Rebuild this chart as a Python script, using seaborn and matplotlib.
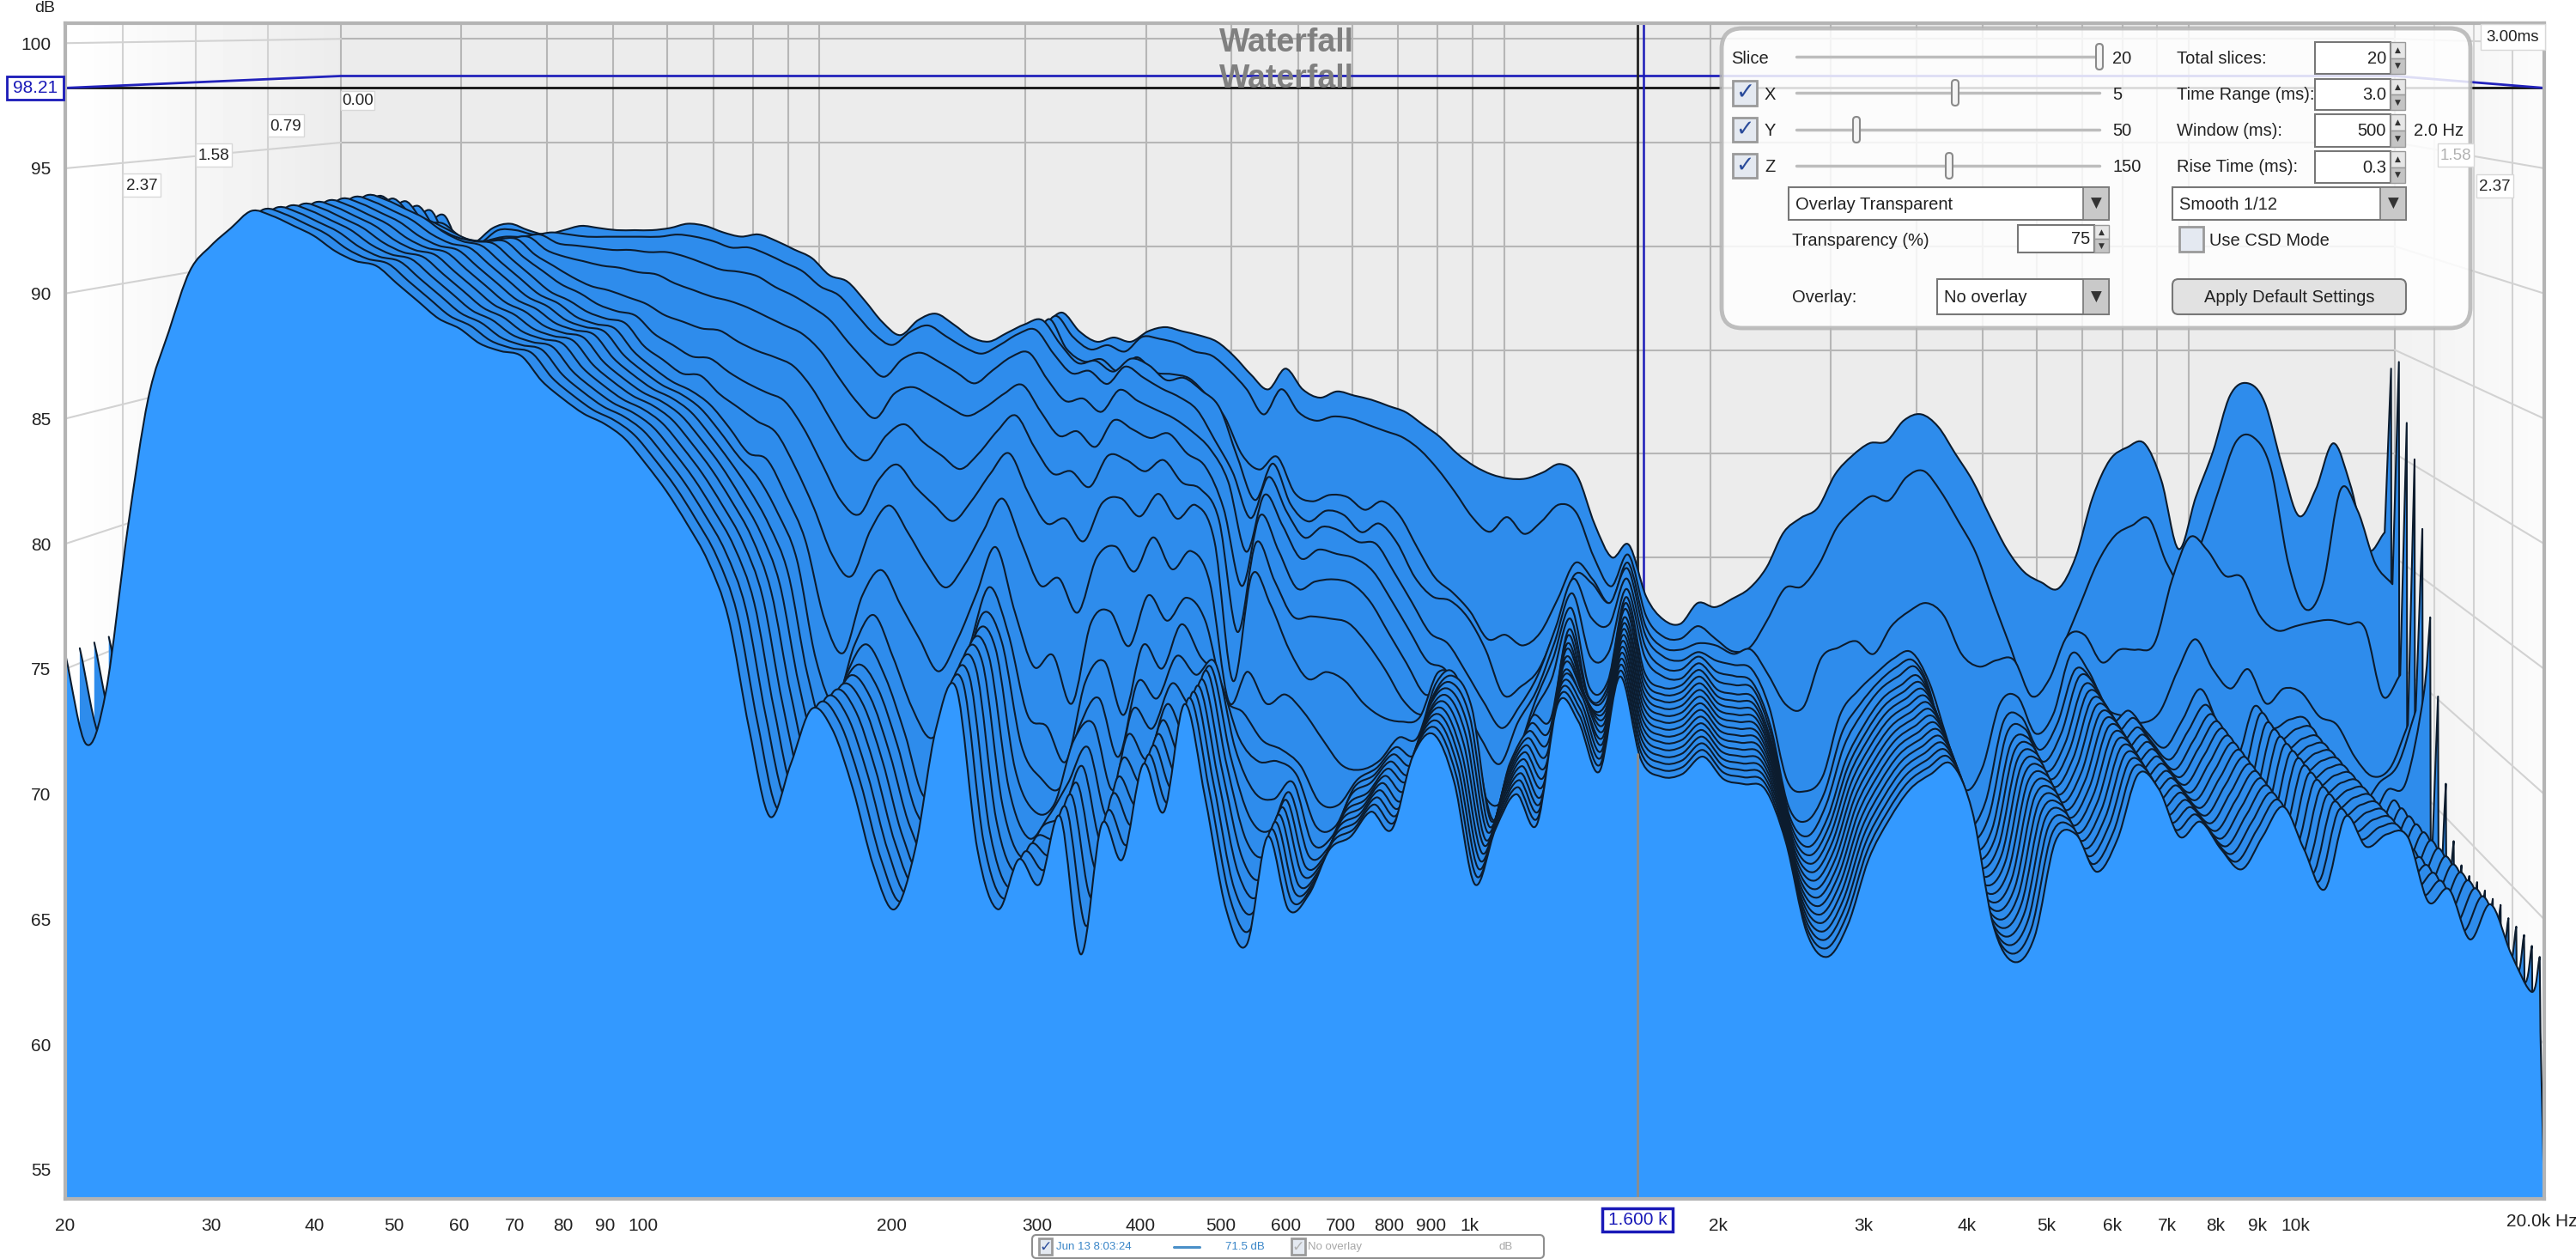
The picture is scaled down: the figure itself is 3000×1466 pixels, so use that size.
import numpy as np
import matplotlib
matplotlib.use("Agg")
import matplotlib.pyplot as plt
from matplotlib.patches import FancyBboxPatch, Rectangle
from matplotlib.path import Path
from matplotlib.patheffects import AbstractPathEffect
from matplotlib.transforms import IdentityTransform
import seaborn as sns

# analysis grid, 1/12 octave, plus the spike and the roll off at the top end
freq_hz = [20, 21.2, 22.4, 23.8, 25.2, 26.7, 28.3, 30, 31.7, 33.6, 35.6, 37.8,
           40, 42.4, 44.9, 47.6, 50.4, 53.4, 56.6, 60, 63.5, 67.3, 71.3, 75.5,
           80, 84.8, 89.8, 95.1, 100.8, 106.8, 113.1, 119.9, 127, 134.5, 142.5, 151,
           160, 169.5, 179.6, 190.3, 201.6, 213.6, 226.3, 239.7, 254, 269.1, 285.1, 302,
           320, 339, 359.2, 380.6, 403.2, 427.2, 452.5, 479.5, 508, 538.2, 570.2, 604.1,
           640, 678.1, 718.4, 761.1, 806.3, 854.3, 905.1, 958.9, 1016, 1076, 1140, 1208,
           1280, 1356, 1437, 1522, 1613, 1709, 1810, 1918, 2032, 2153, 2281, 2416,
           2560, 2712, 2874, 3044, 3225, 3417, 3620, 3836, 4064, 4305, 4561, 4833,
           5120, 5424, 5747, 6089, 6451, 6834, 7241, 7671, 8127, 8611, 9123, 9665,
           10240, 10850, 11490, 12180, 12900, 13670, 14480, 15340, 16260, 17220, 18250, 19330,
           19750, 19790, 20000]

# 20 to 107 Hz
head_settled = [75.6, 72.0, 74.1, 80.6, 85.8, 88.5, 90.9, 91.9, 92.6, 93.3,
                93.1, 92.7, 92.3, 91.7, 91.3, 91.1, 90.4, 89.7, 89.0, 88.6,
                88.0, 87.7, 87.5, 86.5, 85.8, 85.2, 84.8, 84.2, 83.2, 82.1]
head_0 = [71.5, 70.5, 72.5, 77.5, 82.5, 85.5, 87.5, 89.0, 89.6, 90.2,
          90.5, 90.2, 90.0, 90.1, 90.4, 90.4, 90.2, 90.2, 90.3, 90.3,
          90.4, 90.5, 90.3, 89.9, 89.9, 89.9, 89.4, 89.0, 88.4, 87.9]
head_1 = [71.0, 70.0, 72.0, 77.0, 82.0, 85.0, 87.0, 88.5, 89.2, 89.8,
          90.1, 89.8, 89.6, 89.7, 90.0, 90.0, 89.8, 89.8, 89.9, 89.9,
          90.0, 90.1, 89.9, 89.5, 89.5, 89.5, 89.0, 88.6, 88.0, 87.5]
head_2 = [70.2, 69.2, 71.2, 76.2, 81.2, 84.2, 86.2, 87.7, 88.4, 89.0,
          89.3, 89.0, 88.8, 88.9, 89.2, 89.2, 89.0, 89.0, 89.1, 89.1,
          89.2, 89.3, 89.1, 88.7, 88.7, 88.7, 88.2, 87.8, 87.2, 86.7]
head_3 = [73.0, 71.0, 73.0, 78.0, 83.0, 86.0, 88.0, 89.5, 90.0, 90.3,
          90.5, 91.2, 91.4, 91.1, 90.9, 91.1, 91.3, 91.2, 91.1, 91.1,
          91.1, 91.2, 91.4, 91.3, 91.0, 90.8, 90.9, 90.6, 90.2, 89.8]
head_4 = [73.8, 71.5, 73.8, 79.6, 84.4, 87.3, 89.6, 90.7, 91.3, 91.9,
          90.3, 90.6, 91.2, 91.2, 91.0, 91.1, 91.0, 90.9, 90.9, 90.9,
          90.9, 90.9, 91.0, 90.9, 90.7, 90.4, 90.4, 90.1, 89.7, 89.3]
head_5 = [74.2, 71.6, 73.9, 79.8, 84.7, 87.6, 89.9, 91.0, 91.6, 92.2,
          90.6, 90.5, 90.8, 91.0, 91.0, 91.1, 90.7, 90.6, 90.5, 90.4,
          90.4, 90.3, 90.3, 90.1, 89.8, 89.5, 89.4, 89.2, 88.7, 88.3]
head_6 = [74.6, 71.7, 74.0, 80.0, 85.0, 87.8, 90.2, 91.2, 91.9, 92.5,
          91.4, 91.0, 90.5, 90.7, 91.0, 91.1, 90.5, 90.2, 90.0, 89.8,
          89.7, 89.5, 89.4, 89.0, 88.7, 88.4, 88.2, 87.9, 87.5, 87.1]
head_7 = [75.0, 71.8, 74.0, 80.2, 85.3, 88.0, 90.4, 91.4, 92.1, 92.8,
          91.9, 91.8, 91.2, 91.0, 91.1, 91.1, 90.4, 89.9, 89.4, 89.0,
          88.8, 88.5, 88.2, 87.7, 87.4, 87.1, 87.0, 86.5, 86.1, 85.8]
head_8 = [75.2, 71.9, 74.0, 80.4, 85.5, 88.2, 90.6, 91.6, 92.3, 93.0,
          92.3, 92.0, 91.6, 91.2, 91.1, 91.1, 90.4, 89.8, 89.2, 88.8,
          88.3, 88.0, 87.8, 87.0, 86.5, 86.0, 85.9, 85.3, 84.8, 84.4]
head_9 = [75.4, 72.0, 74.1, 80.5, 85.7, 88.4, 90.8, 91.8, 92.5, 93.2,
          92.6, 92.2, 91.8, 91.4, 91.2, 91.1, 90.4, 89.7, 89.0, 88.6,
          88.1, 87.8, 87.6, 86.6, 86.0, 85.4, 85.3, 84.5, 83.9, 83.3]

# 113 to 640 Hz
mid_0 = [87.4, 86.7, 85.5, 85.3, 86.1, 86.0, 85.5, 85.0, 84.8, 85.1,
         85.6, 86.2, 86.8, 85.9, 85.4, 85.6, 85.4, 85.9, 86.1, 85.9,
         85.7, 85.4, 84.7, 83.8, 83.1, 84.1, 83.1, 82.7, 83.0, 82.8, 82.6]
mid_1 = [87.0, 86.3, 85.1, 84.9, 85.7, 85.6, 85.1, 84.6, 84.4, 84.7,
         85.2, 85.8, 86.8, 85.8, 85.2, 85.4, 85.1, 85.8, 85.7, 85.5,
         85.1, 84.9, 84.2, 83.3, 82.1, 83.3, 82.2, 81.8, 82.0, 81.9, 81.6]
mid_2 = [86.2, 85.5, 84.3, 84.1, 84.9, 84.8, 84.3, 83.8, 83.6, 83.9,
         84.4, 85.4, 86.8, 85.4, 84.8, 84.9, 84.3, 85.0, 84.3, 84.2,
         84.0, 83.2, 82.2, 80.4, 79.7, 80.3, 78.6, 78.2, 78.5, 78.4, 77.8]
mid_3 = [89.0, 88.7, 87.8, 86.8, 86.2, 86.9, 87.2, 86.7, 86.1, 85.9,
         86.3, 86.7, 86.9, 85.8, 84.9, 85.0, 84.5, 85.1, 84.8, 84.1,
         84.2, 83.6, 82.8, 80.5, 78.5, 80.2, 78.3, 77.5, 78.0, 77.8, 77.0]
mid_4 = [88.6, 88.2, 87.3, 86.4, 85.9, 86.5, 86.8, 86.3, 85.8, 85.5,
         85.9, 86.4, 86.6, 85.5, 84.6, 84.7, 84.1, 84.9, 84.4, 83.9,
         83.5, 82.9, 81.5, 80.0, 77.9, 79.8, 78.2, 77.0, 77.5, 77.3, 76.8]
mid_5 = [87.8, 87.2, 86.2, 85.3, 84.6, 85.4, 85.7, 85.3, 84.8, 84.3,
         84.9, 85.5, 85.7, 84.5, 83.5, 83.6, 83.0, 84.0, 83.5, 83.1,
         82.7, 82.1, 81.3, 79.8, 76.6, 79.2, 77.8, 76.3, 76.7, 76.5, 76.3]
mid_6 = [86.7, 85.9, 84.7, 83.6, 82.9, 84.0, 84.3, 83.9, 83.4, 83.0,
         83.4, 84.0, 84.4, 83.2, 82.1, 82.3, 81.6, 82.8, 82.4, 82.0,
         82.2, 81.3, 80.7, 78.8, 75.3, 78.5, 76.9, 75.2, 75.5, 75.6, 75.4]
mid_7 = [85.4, 84.4, 83.0, 81.7, 81.2, 82.3, 82.8, 82.0, 81.4, 80.8,
         81.5, 82.5, 83.2, 81.8, 80.6, 80.7, 80.0, 81.4, 81.2, 80.7,
         81.2, 80.2, 79.9, 78.5, 73.5, 77.5, 75.8, 74.2, 74.2, 74.1, 73.9]
mid_8 = [84.0, 82.8, 81.2, 79.6, 79.0, 80.5, 81.2, 80.2, 79.4, 78.7,
         79.6, 80.8, 81.7, 80.0, 78.6, 78.8, 77.8, 79.5, 79.7, 78.9,
         79.9, 78.8, 79.4, 77.8, 71.6, 76.3, 75.0, 73.0, 71.7, 72.0, 71.6]
mid_9 = [82.8, 81.3, 79.5, 77.4, 76.5, 78.5, 79.6, 78.4, 77.0, 76.0,
         77.0, 78.5, 79.9, 78.0, 76.1, 76.4, 74.9, 77.3, 77.8, 76.7,
         78.2, 76.8, 77.6, 76.2, 71.0, 72.3, 70.9, 71.3, 70.5, 69.3, 68.2]
mid_10 = [81.8, 80.2, 78.3, 74.9, 73.4, 75.9, 77.0, 75.5, 74.0, 72.6,
          74.0, 76.0, 78.0, 75.2, 72.8, 73.3, 71.2, 74.7, 75.2, 73.7,
          75.9, 74.8, 75.8, 74.8, 71.5, 70.8, 69.6, 69.2, 68.5, 66.9, 66.8]
mid_11 = [81.2, 79.7, 77.7, 73.4, 71.5, 74.0, 75.3, 73.5, 71.3, 70.0,
          71.5, 74.0, 76.5, 74.5, 71.0, 70.5, 69.0, 72.4, 73.3, 71.0,
          74.0, 73.0, 74.9, 73.5, 72.5, 70.0, 69.0, 69.0, 68.4, 66.2, 66.2]
mid_12 = [80.9, 79.4, 77.3, 73.0, 70.5, 73.0, 74.3, 72.9, 70.5, 67.8,
          69.0, 72.5, 75.6, 74.4, 70.0, 68.6, 68.2, 70.8, 72.0, 69.5,
          72.7, 72.0, 73.8, 73.0, 73.5, 69.9, 68.0, 67.7, 68.4, 65.8, 66.1]
mid_13 = [80.8, 79.3, 77.1, 72.8, 70.0, 72.4, 73.7, 72.7, 70.3, 67.4,
          67.0, 71.0, 75.0, 74.4, 69.3, 67.5, 67.8, 70.5, 71.2, 68.4,
          71.8, 71.0, 72.9, 72.0, 73.6, 69.8, 67.2, 66.7, 68.3, 65.6, 66.0]
mid_14 = [80.8, 79.3, 77.0, 72.7, 69.6, 71.9, 73.5, 72.6, 70.2, 67.2,
          66.0, 70.0, 74.7, 74.3, 68.8, 66.7, 67.6, 69.0, 70.5, 67.6,
          71.0, 70.0, 72.3, 71.0, 73.7, 69.8, 66.6, 66.0, 68.3, 65.5, 66.0]
mid_15 = [80.8, 79.3, 77.0, 72.6, 69.4, 71.6, 73.4, 72.6, 70.2, 67.1,
          65.6, 69.3, 74.4, 74.3, 68.4, 66.2, 67.5, 68.0, 70.0, 66.8,
          70.3, 69.3, 71.9, 70.4, 73.6, 69.8, 66.2, 65.4, 68.3, 65.5, 66.0]
mid_16 = [80.8, 79.3, 77.0, 72.6, 69.2, 71.4, 73.4, 72.6, 70.2, 67.1,
          65.5, 68.8, 74.0, 74.3, 68.1, 65.9, 67.4, 67.4, 69.6, 66.0,
          69.8, 68.7, 71.6, 70.0, 73.6, 69.8, 65.9, 65.0, 68.3, 65.4, 66.0]
mid_17 = [80.8, 79.3, 77.0, 72.6, 69.2, 71.3, 73.4, 72.6, 70.2, 67.1,
          65.4, 68.4, 73.6, 74.2, 67.9, 65.6, 67.4, 67.0, 69.4, 65.2,
          69.4, 68.2, 71.4, 69.7, 73.6, 69.8, 65.6, 64.7, 68.3, 65.4, 66.0]
mid_18 = [80.8, 79.3, 77.0, 72.6, 69.1, 71.2, 73.4, 72.6, 70.2, 67.1,
          65.4, 68.0, 73.1, 74.2, 67.8, 65.5, 67.4, 66.7, 69.2, 64.4,
          69.0, 67.7, 71.3, 69.4, 73.6, 69.8, 65.5, 64.3, 68.3, 65.4, 66.0]
mid_19 = [80.8, 79.3, 77.0, 72.6, 69.1, 71.2, 73.4, 72.6, 70.2, 67.1,
          65.4, 67.8, 72.6, 74.2, 67.8, 65.4, 67.4, 66.4, 69.1, 63.6,
          68.8, 67.4, 71.2, 69.3, 73.6, 69.8, 65.4, 64.0, 68.3, 65.4, 66.0]

# 678 Hz to 19.3 kHz, first slices
upper_0 = [82.3, 82.0, 81.4, 80.8, 80.0, 79.4, 79.0, 78.8, 78.8,
           79.1, 79.5, 78.9, 76.6, 75.0, 75.6, 73.1, 72.0, 71.8, 72.8,
           72.6, 73.0, 73.5, 74.5, 76.2, 76.9, 77.4, 79.0, 79.9, 80.5,
           80.6, 81.6, 81.9, 81.3, 80.0, 78.7, 77.0, 75.4, 74.3, 73.8,
           73.5, 75.0, 77.9, 79.7, 80.3, 80.5, 78.7, 75.4, 77.9, 80.1,
           82.8, 83.4, 82.5, 79.5, 77.0, 78.3, 80.5, 78.5, 75.4, 76.2]
upper_1 = [81.3, 81.0, 80.4, 79.5, 78.4, 77.2, 76.5, 77.2, 76.4,
           77.0, 77.8, 77.4, 75.3, 73.9, 75.4, 72.5, 71.5, 71.4, 72.0,
           71.4, 70.8, 71.0, 72.3, 73.8, 73.9, 75.0, 76.7, 77.6, 78.2,
           78.0, 79.1, 79.4, 78.4, 77.0, 75.5, 73.2, 71.0, 68.8, 69.0,
           71.0, 73.0, 75.0, 76.3, 76.8, 77.1, 75.0, 74.0, 76.0, 78.5,
           80.8, 81.0, 79.5, 75.0, 72.8, 74.0, 78.5, 77.5, 75.0, 74.0]
upper_2 = [78.2, 77.5, 76.0, 74.6, 73.9, 73.0, 71.7, 71.9, 71.4,
           72.0, 73.6, 75.3, 74.5, 73.4, 75.3, 72.3, 71.3, 71.2, 71.5,
           71.4, 71.0, 71.2, 70.0, 68.6, 68.5, 70.8, 71.3, 71.6, 71.0,
           72.3, 73.0, 73.4, 72.8, 71.0, 70.4, 70.7, 70.7, 69.0, 69.8,
           71.8, 71.9, 70.6, 71.2, 71.2, 71.5, 74.5, 76.5, 75.9, 74.7,
           74.6, 72.8, 72.1, 72.3, 72.5, 72.6, 72.4, 72.2, 69.0, 70.0]
upper_3 = [77.4, 76.5, 74.9, 74.0, 73.8, 73.0, 71.5, 69.4, 69.8,
           70.6, 72.6, 75.0, 74.6, 73.7, 75.3, 72.2, 71.2, 71.0, 71.4,
           71.0, 70.8, 70.6, 68.8, 65.4, 64.9, 65.6, 68.5, 69.6, 70.4,
           71.1, 71.4, 70.0, 67.4, 65.0, 66.0, 69.0, 69.3, 67.6, 68.5,
           71.3, 70.5, 68.8, 68.4, 68.1, 68.6, 70.5, 72.0, 70.6, 69.7,
           70.6, 69.0, 69.7, 69.5, 68.4, 68.0, 66.5, 65.6, 66.0, 68.0]
upper_4 = [76.7, 75.4, 74.0, 72.6, 72.1, 70.8, 69.4, 68.2, 69.2,
           70.6, 72.8, 75.1, 73.3, 73.0, 75.1, 72.0, 71.0, 70.9, 71.5,
           70.8, 70.6, 70.3, 68.3, 64.6, 63.9, 65.2, 68.0, 69.3, 70.3,
           71.0, 71.3, 69.6, 65.2, 63.6, 64.8, 68.5, 68.7, 67.2, 68.4,
           70.9, 70.3, 68.5, 69.0, 68.0, 67.3, 68.6, 70.0, 68.3, 66.8,
           69.2, 68.2, 68.6, 68.5, 66.2, 66.4, 64.8, 65.7, 66.5, 69.0]
upper_5 = [75.7, 74.4, 73.0, 71.6, 71.2, 69.6, 68.0, 66.9, 68.8,
           70.2, 72.4, 74.7, 71.8, 72.0, 74.9, 71.8, 70.9, 70.8, 71.5,
           70.7, 70.5, 70.3, 68.2, 64.5, 63.6, 65.0, 67.7, 69.2, 70.3,
           70.9, 71.3, 69.4, 65.0, 63.4, 64.5, 68.3, 68.5, 67.0, 68.3,
           70.9, 70.3, 68.4, 69.0, 67.9, 67.1, 68.4, 69.6, 68.0, 66.4,
           69.2, 68.0, 68.5, 68.4, 65.9, 66.3, 64.4, 65.7, 66.0, 70.0]

# 678 Hz to 1.5 kHz, later slices
bend_6 = [74.6, 73.2, 71.8, 70.4, 70.6, 68.6, 66.2, 65.4, 67.5, 70.0, 72.0, 74.3, 70.7, 71.0, 74.8]
bend_7 = [73.0, 71.8, 70.4, 69.8, 70.6, 69.0, 65.4, 65.0, 67.0, 69.8, 71.4, 74.1, 70.6, 71.0, 74.8]
bend_8 = [70.6, 70.0, 69.8, 70.0, 72.0, 71.3, 67.5, 65.4, 67.2, 70.0, 69.9, 73.9, 70.9, 71.0, 74.8]
bend_9 = [68.0, 68.4, 69.4, 69.4, 71.8, 72.2, 69.5, 65.8, 67.8, 70.0, 69.7, 73.9, 71.0, 70.9, 74.7]
bend_10 = [67.9, 68.4, 69.3, 69.0, 71.6, 72.4, 71.0, 66.1, 68.6, 70.0, 69.5, 73.8, 71.4, 70.9, 74.7]
bend_11 = [67.9, 68.4, 69.3, 68.9, 71.6, 72.4, 70.9, 66.2, 68.6, 70.0, 69.3, 73.8, 71.8, 70.9, 74.7]
bend_12 = [67.9, 68.4, 69.3, 68.8, 71.6, 72.4, 70.8, 66.3, 68.6, 70.0, 69.1, 73.7, 72.1, 70.9, 74.7]
bend_13 = [67.8, 68.3, 69.3, 68.8, 71.5, 72.4, 70.7, 66.3, 68.6, 70.0, 69.0, 73.7, 72.4, 70.9, 74.7]
bend_14 = [67.8, 68.3, 69.3, 68.7, 71.5, 72.4, 70.6, 66.4, 68.6, 70.0, 68.9, 73.6, 72.5, 70.9, 74.7]
bend_settled = [67.8, 68.3, 69.3, 68.6, 71.5, 72.4, 70.5, 66.4, 68.6, 70.0, 68.8, 73.6, 72.9, 70.9, 74.7]

# 1.6 kHz to 19.3 kHz, later slices
top_settled = [71.4, 70.7, 70.8, 71.5,
               70.6, 70.4, 70.2, 68.1, 64.5, 63.5, 64.8, 67.4, 69.0, 70.2,
               70.8, 71.2, 69.3, 64.8, 63.3, 64.3, 68.1, 68.4, 66.9, 68.2,
               70.8, 70.2, 68.3, 68.9, 67.8, 67.0, 68.3, 69.5, 67.8, 66.2,
               69.1, 67.9, 68.4, 68.3, 65.7, 66.2, 64.2, 65.6, 63.6, 62.1]

# spike height at the top end of every slice, first to last
spike_db = [84.1, 84.6, 81.9, 80.4, 77.4, 73.6, 70.3, 66.7, 64.5, 63.8,
            63.7, 63.8, 63.8, 63.8, 63.9, 63.7, 63.7, 63.7, 63.6, 63.5]
after_spike_db = 60.5
end_db = 53.8

slices = [head_0 + mid_0 + upper_0, head_1 + mid_1 + upper_1, head_2 + mid_2 + upper_2,
          head_3 + mid_3 + upper_3, head_4 + mid_4 + upper_4, head_5 + mid_5 + upper_5,
          head_6 + mid_6 + bend_6 + top_settled, head_7 + mid_7 + bend_7 + top_settled,
          head_8 + mid_8 + bend_8 + top_settled, head_9 + mid_9 + bend_9 + top_settled,
          head_settled + mid_10 + bend_10 + top_settled, head_settled + mid_11 + bend_11 + top_settled,
          head_settled + mid_12 + bend_12 + top_settled, head_settled + mid_13 + bend_13 + top_settled,
          head_settled + mid_14 + bend_14 + top_settled, head_settled + mid_15 + bend_settled + top_settled,
          head_settled + mid_16 + bend_settled + top_settled, head_settled + mid_17 + bend_settled + top_settled,
          head_settled + mid_18 + bend_settled + top_settled, head_settled + mid_19 + bend_settled + top_settled]

x_ticks = [20, 30, 40, 50, 60, 70, 80, 90, 100, 200, 300, 400, 500, 600, 700, 800, 900,
           1000, 2000, 3000, 4000, 5000, 6000, 7000, 8000, 9000, 10000]
x_tick_labels = ["20", "30", "40", "50", "60", "70", "80", "90", "100", "200", "300", "400",
                 "500", "600", "700", "800", "900", "1k", "2k", "3k", "4k", "5k", "6k",
                 "7k", "8k", "9k", "10k"]
y_ticks = [55, 60, 65, 70, 75, 80, 85, 90, 95, 100]
back_freqs = x_ticks[1:]
wall_times = [0.79, 1.58, 2.37]
time_range = 3.0
cursor_db = 98.21
cursor_hz = 1600

# perspective of the 3d view, pixels of the 3000x1466 picture
FRONT_X0, FRONT_DX = 76, 962.3
BACK_X0, BACK_DX = 397, 797.3
FRONT_Y55, FRONT_DY = 1362, 29.15
BACK_Y55, BACK_DY = 1132, 24.15
PLOT_TOP, PLOT_BOTTOM = 27, 1396
DB_TOP = 55 + (FRONT_Y55 - PLOT_TOP) / FRONT_DY
DB_BOTTOM = 55 + (FRONT_Y55 - PLOT_BOTTOM) / FRONT_DY


def project(freq, db, depth):
    # depth 0 is the back wall, 1 the front. Returns what the front axes read
    lf = np.log10(np.asarray(freq, dtype=float) / 20)
    d = np.asarray(db, dtype=float) - 55
    x = (BACK_X0 + BACK_DX * lf) * (1 - depth) + (FRONT_X0 + FRONT_DX * lf) * depth
    y = (BACK_Y55 - BACK_DY * d) * (1 - depth) + (FRONT_Y55 - FRONT_DY * d) * depth
    return 20 * 10 ** ((x - FRONT_X0) / FRONT_DX), 55 + (FRONT_Y55 - y) / FRONT_DY


class SmoothCurve(AbstractPathEffect):
    # renders the polyline with round bezier joins, the vertices stay where they are
    def draw_path(self, renderer, gc, tpath, affine, rgbFace=None):
        pts = affine.transform(tpath.vertices)
        n = len(pts)
        d = np.diff(pts, axis=0)
        good = (d[:, 0] > 0) & ~((np.abs(d[:, 1]) > 15 * d[:, 0]) & (np.abs(d[:, 1]) > 15))
        tang = np.zeros_like(pts)
        for i in range(n):
            before = i > 0 and good[i - 1]
            after = i < n - 1 and good[i]
            if before and after:
                tang[i] = (pts[i + 1] - pts[i - 1]) / 6
            elif after:
                tang[i] = d[i] / 3
            elif before:
                tang[i] = d[i - 1] / 3
        verts = [pts[0]]
        codes = [Path.MOVETO]
        for i in range(n - 1):
            if good[i]:
                verts += [pts[i] + tang[i], pts[i + 1] - tang[i + 1], pts[i + 1]]
                codes += [Path.CURVE4] * 3
            else:
                verts.append(pts[i + 1])
                codes.append(Path.LINETO)
        renderer.draw_path(gc, Path(np.array(verts), codes), IdentityTransform(), rgbFace)


sns.set_theme(style="white")
plt.rcParams["font.family"] = ["Liberation Sans", "DejaVu Sans"]

fig = plt.figure(figsize=(30, 14.66), dpi=100, facecolor="white")
rect = [FRONT_X0 / 3000, (1466 - PLOT_BOTTOM) / 1466, 2887 / 3000, (PLOT_BOTTOM - PLOT_TOP) / 1466]

# walls
bg = fig.add_axes(rect, zorder=0)
cols = np.arange(2887) + 76
shade = np.interp(cols, [76, 397, 398, 2789, 2790, 2963], [1.0, 0.925, 0.925, 0.925, 0.945, 0.985])
bg.imshow(shade[None, :], aspect="auto", cmap="gray", vmin=0, vmax=1)
bg.axis("off")

ax = fig.add_axes(rect, zorder=1)
ax.patch.set_alpha(0)
ax.set_xscale("log")
ax.set_xlim(20, 20000)
ax.set_ylim(DB_BOTTOM, DB_TOP)

GRID = "#b6b6b6"
SIDE = "#d2d2d2"
for f in back_freqs:
    fx, _ = project(f, 55, 0)
    ax.plot([fx, fx], [DB_BOTTOM, DB_TOP], color=GRID, lw=1.5, zorder=1)
for t in wall_times:
    for f in (20, 20000):
        fx, _ = project(f, 55, t / time_range)
        ax.plot([fx, fx], [DB_BOTTOM, DB_TOP], color=SIDE, lw=1.5, zorder=1)
for f in (20, 20000):
    fx, _ = project(f, 55, 0)
    ax.plot([fx, fx], [DB_BOTTOM, DB_TOP], color=GRID, lw=1.5, zorder=1)
for db in y_ticks:
    bx, by = project([20, 20000], [db, db], 0)
    ax.plot(bx, by, color=GRID, lw=1.5, zorder=1)
    fx, fy = project([20, 20], [db, db], np.array([1.0, 0.0]))
    ax.plot(fx, fy, color=SIDE, lw=1.5, zorder=1)
    fx, fy = project([20000, 20000], [db, db], np.array([0.0, 1.0]))
    ax.plot(fx, fy, color=SIDE, lw=1.5, zorder=1)

# cursors
ax.plot([20, 20000], [cursor_db, cursor_db], color="#111111", lw=2, zorder=2)
bx, by = project([20, 20000], [cursor_db, cursor_db], 0)
ax.plot([20, bx[0], bx[1], 20000], [cursor_db, by[0], by[1], cursor_db], color="#2222bb", lw=2, zorder=2)
ax.plot([cursor_hz, cursor_hz], [DB_BOTTOM, DB_TOP], color="#222222", lw=2, zorder=2)
bx, _ = project(cursor_hz, 55, 0)
ax.plot([bx, bx], [DB_BOTTOM, DB_TOP], color="#1a1ab8", lw=1.8, zorder=2)

# slices, back to front, each one covers the ones behind
n_slices = len(slices)
for i, values in enumerate(slices):
    levels = values + [spike_db[i], after_spike_db, end_db]
    depth = i / (n_slices - 1)
    px, py = project(freq_hz, levels, depth)
    fill = "#3399ff" if i == n_slices - 1 else "#2e8cec"
    area = ax.fill_between(px, py, DB_BOTTOM, color=fill, linewidth=0, zorder=3 + 2 * i)
    area.set_path_effects([SmoothCurve()])
    sns.lineplot(x=px, y=py, ax=ax, sort=False, estimator=None, errorbar=None,
                 color="#0c1c2e", linewidth=1.5, zorder=4 + 2 * i)
    ax.lines[-1].set_path_effects([SmoothCurve()])

# front cursor over the slices
ax.plot([cursor_hz, cursor_hz], [DB_BOTTOM, 71.6], color="#8c8c8c", lw=2, zorder=60)

ax.set_xlabel("")
ax.set_ylabel("")
ax.set_xticks(x_ticks)
ax.set_xticklabels(x_tick_labels)
ax.minorticks_off()
ax.set_yticks(y_ticks)
ax.tick_params(axis="both", length=0, labelsize=15, labelcolor="#222222")
ax.tick_params(axis="x", pad=16)
ax.tick_params(axis="y", pad=12)
for side in ax.spines:
    ax.spines[side].set_color("#b4b4b4")
    ax.spines[side].set_linewidth(3)
    ax.spines[side].set_zorder(100)

# everything on top of the plot, pixel coordinates
ui = fig.add_axes([0, 0, 1, 1], zorder=5)
ui.set_xlim(0, 3000)
ui.set_ylim(1466, 0)
ui.axis("off")
ui.patch.set_alpha(0)


def label(x, y, s, size=14.5, color="#222222", ha="left", **kw):
    ui.text(x, y, s, fontsize=size, color=color, ha=ha, va="center", **kw)


def box(x0, y0, x1, y1, face="white", edge="#777777", lw=1.5, **kw):
    ui.add_patch(Rectangle((x0, y0), x1 - x0, y1 - y0, facecolor=face, edgecolor=edge, linewidth=lw, **kw))


def check(x0, y0, x1, y1, on=True, color="#2b4c9b"):
    box(x0, y0, x1, y1, face="#e4e9f1", edge="#9a9a9a", lw=2)
    if on:
        ui.text((x0 + x1) / 2, (y0 + y1) / 2, "✓", family="DejaVu Sans", fontsize=(y1 - y0) * 0.66,
                fontweight="bold", color=color, ha="center", va="center")


def spin(x0, y0, x1, y1, value):
    box(x0, y0, x1, y1)
    label(x1 - 5, (y0 + y1) / 2 + 1, value, ha="right")
    mid = (y0 + y1) / 2
    box(x1, y0, x1 + 17, mid, face="#e6e6e6", edge="#999999", lw=1)
    box(x1, mid, x1 + 17, y1, face="#c4c4c4", edge="#999999", lw=1)
    ui.text(x1 + 8.5, (y0 + mid) / 2, "▲", family="DejaVu Sans", fontsize=6.5, color="#333333", ha="center", va="center")
    ui.text(x1 + 8.5, (y1 + mid) / 2, "▼", family="DejaVu Sans", fontsize=6.5, color="#333333", ha="center", va="center")


def dropdown(x0, y0, x1, y1, value):
    box(x0, y0, x1, y1)
    box(x1 - 30, y0, x1, y1, face="#c9c9c9", edge="#777777", lw=1.2)
    label(x0 + 8, (y0 + y1) / 2 + 1, value)
    ui.text(x1 - 15, (y0 + y1) / 2, "▼", family="DejaVu Sans", fontsize=12, color="#333333", ha="center", va="center")


# plot labels
label(52, 10, "dB", size=14, ha="center")
ui.text(1498, 50, "Waterfall", fontsize=27, fontweight="bold", color="#808080", ha="center", va="center")
ui.text(1498, 92, "Waterfall", fontsize=27, fontweight="bold", color="#808080", ha="center", va="center")
box(8, 89, 74, 116, edge="#1a1ab8", lw=2)
label(41, 103, "98.21", size=15, color="#1a1ab8", ha="center")
box(1866, 1407, 1948, 1434, edge="#1a1ab8", lw=2.5)
label(1907, 1421, "1.600 k", size=15, color="#1a1ab8", ha="center")
label(2960, 1422, "20.0k Hz", size=15, ha="center")

for txt, x0, y0, x1, y1, fade in [("0.00", 397, 106, 436, 128, 1), ("0.79", 312, 133, 354, 159, 1),
                                  ("1.58", 228, 167, 270, 194, 1), ("2.37", 143, 202, 187, 229, 1),
                                  ("3.00ms", 2889, 28, 2964, 58, 1), ("2.37", 2884, 203, 2927, 230, 1),
                                  ("1.58", 2839, 167, 2881, 194, 0.35)]:
    box(x0, y0, x1, y1, edge="#d8d8d8", lw=1, zorder=2)
    label((x0 + x1) / 2, (y0 + y1) / 2 + 1, txt, size=13.5, ha="center", alpha=fade, zorder=3)

# settings panel
ui.add_patch(FancyBboxPatch((2005, 33), 872, 349, boxstyle="round,pad=0,rounding_size=24", linewidth=3.5,
                            edgecolor="#b4b4b4", facecolor="white", alpha=0.85, zorder=0.6))

label(2016, 68, "Slice")
for y, thumb, value in [(66, 2445, "20"), (108, 2277, "5"), (151, 2162, "50"), (193, 2270, "150")]:
    ui.plot([2092, 2445], [y, y], color="#bdbdbd", lw=2.5)
    ui.add_patch(FancyBboxPatch((thumb - 4, y - 15), 8, 30, boxstyle="round,pad=0,rounding_size=4",
                                facecolor="#f5f5f5", edgecolor="#8a8a8a", linewidth=1.5, zorder=3))
    label(2460, y + 2, value)
for (y0, y1), name, y in [((94, 123), "X", 110), ((137, 165), "Y", 153), ((179, 207), "Z", 195)]:
    check(2018, y0, 2046, y1)
    label(2055, y, name)

label(2535, 68, "Total slices:")
label(2535, 111, "Time Range (ms):")
label(2535, 153, "Window (ms):")
label(2535, 195, "Rise Time (ms):")
spin(2696, 49, 2784, 86, "20")
spin(2696, 92, 2784, 128, "3.0")
spin(2696, 133, 2784, 171, "500")
spin(2696, 176, 2784, 213, "0.3")
label(2811, 153, "2.0 Hz")

dropdown(2083, 218, 2456, 256, "Overlay Transparent")
dropdown(2530, 218, 2802, 256, "Smooth 1/12")
label(2087, 280, "Transparency (%)")
spin(2350, 262, 2439, 294, "75")
check(2538, 264, 2566, 293, on=False)
label(2573, 280, "Use CSD Mode")
label(2087, 347, "Overlay:")
dropdown(2256, 325, 2456, 366, "No overlay")
ui.add_patch(FancyBboxPatch((2530, 325), 272, 41, boxstyle="round,pad=0,rounding_size=7",
                            facecolor="#e2e2e2", edgecolor="#777777", linewidth=1.5))
label(2666, 346, "Apply Default Settings", ha="center")

# legend under the plot
ui.add_patch(FancyBboxPatch((1202, 1438), 596, 27, boxstyle="round,pad=0,rounding_size=5",
                            facecolor="white", edgecolor="#8f8f8f", linewidth=1.5))
check(1210, 1442, 1225, 1461)
label(1230, 1452, "Jun 13 8:03:24", size=9.5, color="#3a86c8")
ui.plot([1367, 1397], [1452, 1452], color="#4a90c8", lw=2.2)
label(1427, 1452, "71.5 dB", size=9.5, color="#3a86c8")
check(1504, 1442, 1520, 1461, color="#b0b0b0")
label(1523, 1452, "No overlay", size=9.5, color="#a8a8a8")
label(1745, 1452, "dB", size=9.5, color="#a8a8a8")

fig.savefig("out.png", dpi=100)
